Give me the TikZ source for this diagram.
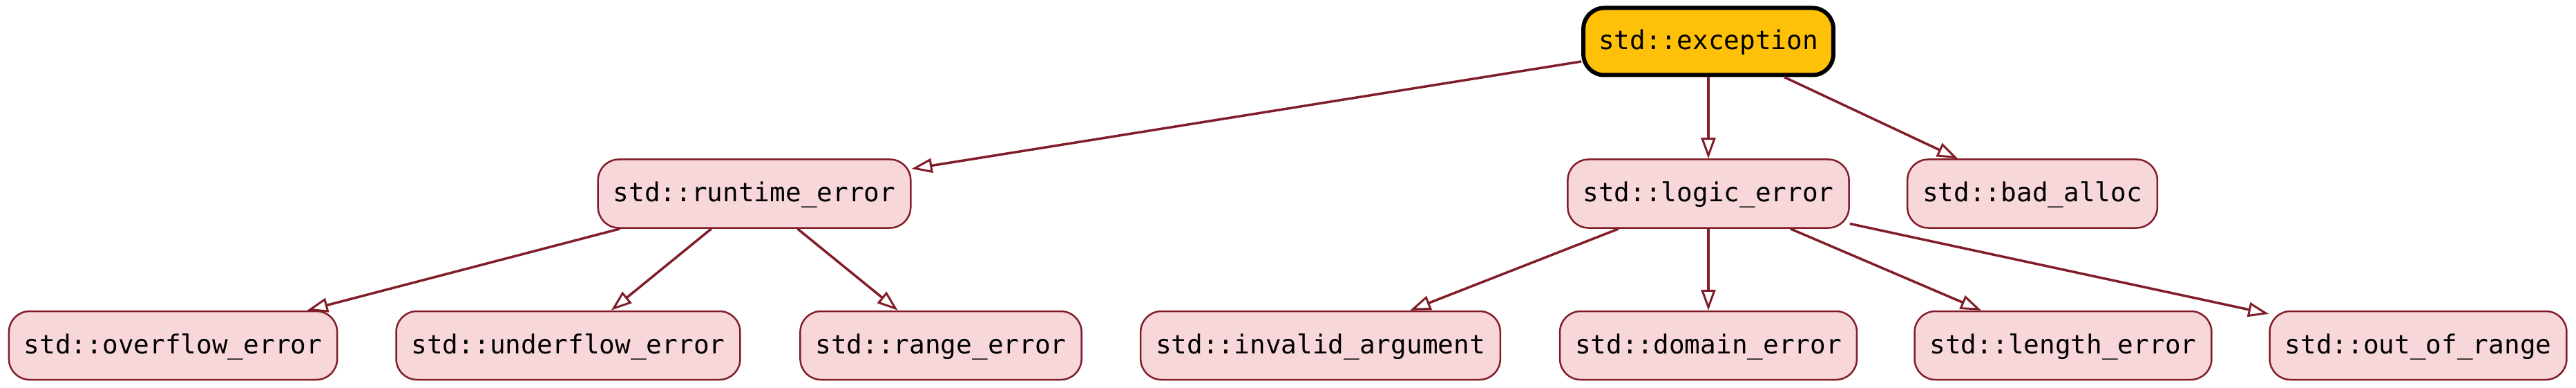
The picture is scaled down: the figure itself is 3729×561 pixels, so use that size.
\documentclass[tikz,border=0pt]{standalone}
\usepackage{fontspec}
\setmonofont{DejaVu Sans Mono}
\usetikzlibrary{arrows.meta}
\definecolor{edgecol}{RGB}{128,29,41}
\definecolor{pinkfill}{RGB}{248,215,218}
\definecolor{amber}{RGB}{255,193,7}
\tikzset{
  base/.style={rounded corners=30pt, minimum height=97pt, inner xsep=22pt, inner ysep=0pt,
    font=\ttfamily\fontsize{37.7}{45}\selectfont, text height=31pt, text depth=8pt, anchor=center},
  rootbox/.style={base, draw=black, line width=6pt, fill=amber},
  leafbox/.style={base, draw=edgecol, line width=2.5pt, fill=pinkfill, minimum height=99pt},
  inherit/.style={draw=edgecol, line width=3.5pt, -{Triangle[open, length=30pt, width=21pt, line width=3pt]}}
}
\begin{document}
\begin{tikzpicture}[x=1pt,y=-1pt]
\useasboundingbox (0,0) rectangle (3729,561);
\node[rootbox] (exc) at (2473,60) {std::exception};
\node[leafbox] (rt) at (1092,280) {std::runtime\_error};
\node[leafbox] (le) at (2473,280) {std::logic\_error};
\node[leafbox] (ba) at (2942,280) {std::bad\_alloc};
\node[leafbox] (ov) at (250.5,499.5) {std::overflow\_error};
\node[leafbox] (un) at (822.5,499.5) {std::underflow\_error};
\node[leafbox] (ra) at (1362,499.5) {std::range\_error};
\node[leafbox] (ia) at (1911.5,499.5) {std::invalid\_argument};
\node[leafbox] (de) at (2473,499.5) {std::domain\_error};
\node[leafbox] (ln) at (2986.5,499.5) {std::length\_error};
\node[leafbox] (oor) at (3500.5,499.5) {std::out\_of\_range};
\draw[inherit] (exc) -- (rt);
\draw[inherit] (exc) -- (le);
\draw[inherit] (exc) -- (ba);
\draw[inherit] (rt) -- (ov);
\draw[inherit] (rt) -- (un);
\draw[inherit] (rt) -- (ra);
\draw[inherit] (le) -- (ia);
\draw[inherit] (le) -- (de);
\draw[inherit] (le) -- (ln);
\draw[inherit] (le) -- (oor);
\end{tikzpicture}
\end{document}
